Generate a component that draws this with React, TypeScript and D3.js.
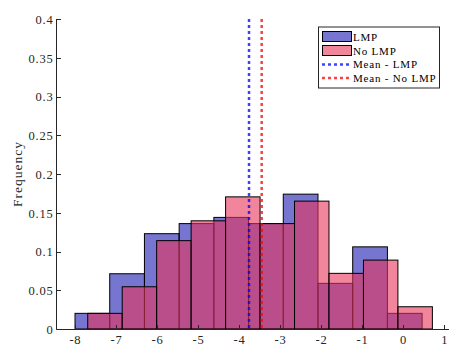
import React from "react";
import * as d3 from "d3";

const lmpStart = -8;
const lmpBinWidth = 0.846;
const lmpFreq = [0.0202, 0.0713, 0.123, 0.136, 0.144, 0.136, 0.174, 0.0589, 0.106, 0.0202];

const noLmpStart = -7.69;
const noLmpBinWidth = 0.84;
const noLmpFreq = [0.0202, 0.0545, 0.114, 0.1396, 0.1705, 0.136, 0.165, 0.0718, 0.0889, 0.0287];

const meanLmp = -3.759;
const meanNoLmp = -3.45;

const xTicks = [-8, -7, -6, -5, -4, -3, -2, -1, 0, 1];
const yTicks = [0, 0.05, 0.1, 0.15, 0.2, 0.25, 0.3, 0.35, 0.4];

const legendLabels = ["LMP", "No LMP", "Mean - LMP", "Mean - No LMP"];

const W = 449;
const H = 347;
const FONT = '"Liberation Serif", "Times New Roman", "DejaVu Serif", serif';
const AX = "#262626";

export default function App() {
  const x = d3.scaleLinear().domain([-8.439, 1.115]).range([57, 449]);
  const y = d3.scaleLinear().domain([0, 0.4]).range([329, 19]);

  const bars = (start: number, w: number, vals: number[], fill: string, key: string) =>
    vals.map((v, i) => {
      const x0 = x(start + i * w);
      const x1 = x(start + (i + 1) * w);
      return (
        <rect
          key={key + i}
          x={x0}
          y={y(v)}
          width={x1 - x0}
          height={y(0) - y(v)}
          fill={fill}
          fillOpacity={0.6}
          stroke="#000"
          strokeWidth={1}
        />
      );
    });

  const blue = "#1a1ab3";
  const red = "#e6335a";
  const ls = 0.8;

  return (
    <svg
      width={W}
      height={H}
      style={{ position: "absolute", left: 0, top: 0, display: "block", background: "#fff", fontFamily: FONT }}
    >
      {bars(lmpStart, lmpBinWidth, lmpFreq, blue, "b")}
      {bars(noLmpStart, noLmpBinWidth, noLmpFreq, red, "r")}

      <line x1={x(meanLmp)} x2={x(meanLmp)} y1={y(0.4)} y2={y(0)} stroke="#0000ff" strokeOpacity={0.75} strokeWidth={2.5} strokeDasharray="3 3" />
      <line x1={x(meanNoLmp)} x2={x(meanNoLmp)} y1={y(0.4)} y2={y(0)} stroke="#ff0000" strokeOpacity={0.75} strokeWidth={2.5} strokeDasharray="3 3" />

      {/* axes */}
      <line x1={56.5} x2={56.5} y1={y(0.4)} y2={329.5} stroke={AX} strokeWidth={1} />
      <line x1={56.5} x2={449} y1={329.5} y2={329.5} stroke={AX} strokeWidth={1} />
      {yTicks.map((t) => (
        <g key={"yt" + t}>
          <line x1={56.5} x2={61} y1={Math.round(y(t)) + 0.5} y2={Math.round(y(t)) + 0.5} stroke={AX} />
          <text x={52.7 + ls} y={y(t) + 4.8} textAnchor="end" fontSize={12.5} letterSpacing={ls} fill={AX}>
            {String(t)}
          </text>
        </g>
      ))}
      {xTicks.map((t) => (
        <g key={"xt" + t}>
          <line x1={Math.round(x(t)) + 0.5} x2={Math.round(x(t)) + 0.5} y1={329.5} y2={325} stroke={AX} />
          <text x={x(t) + ls / 2} y={344.3} textAnchor="middle" fontSize={12.5} letterSpacing={ls} fill={AX}>
            {String(t)}
          </text>
        </g>
      ))}
      <text
        transform={`translate(22,${(y(0) + y(0.4)) / 2}) rotate(-90)`}
        textAnchor="middle"
        fontSize={13.5}
        letterSpacing={1}
        fill={AX}
      >
        Frequency
      </text>

      {/* legend */}
      <rect x={318.5} y={27} width={121} height={61} fill="#fff" stroke={AX} strokeWidth={1} />
      <rect x={322.5} y={31.5} width={29} height={10} fill={blue} fillOpacity={0.6} stroke="#000" />
      <rect x={322.5} y={45.5} width={29} height={10} fill={red} fillOpacity={0.6} stroke="#000" />
      <line x1={322} x2={351} y1={64.5} y2={64.5} stroke="#0000ff" strokeOpacity={0.75} strokeWidth={2.5} strokeDasharray="3 3" />
      <line x1={322} x2={351} y1={78} y2={78} stroke="#ff0000" strokeOpacity={0.75} strokeWidth={2.5} strokeDasharray="3 3" />
      {legendLabels.map((l, i) => (
        <text key={l} x={353} y={[41.3, 54.8, 68.3, 81.7][i]} fontSize={11} letterSpacing={0.8} fill="#000">
          {l}
        </text>
      ))}
    </svg>
  );
}
